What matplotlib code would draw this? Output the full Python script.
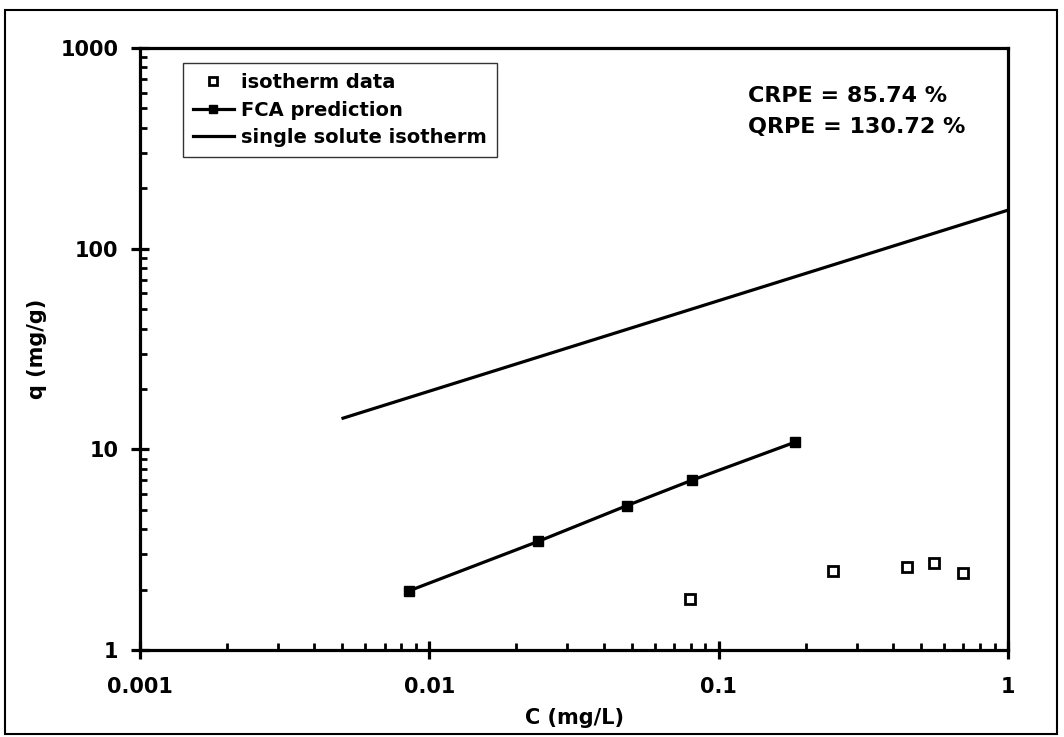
import matplotlib.pyplot as plt
from matplotlib.patches import Rectangle

# donnees
c_data = [0.0793, 0.249, 0.449, 0.556, 0.701]
q_data = [1.79, 2.48, 2.60, 2.72, 2.41]

c_fca = [0.00853, 0.0238, 0.0481, 0.0811, 0.183]
q_fca = [1.975, 3.48, 5.24, 7.03, 10.84]

c_single = [0.00503, 1.0]
q_single = [14.3, 155.6]

x_ticks = [0.001, 0.01, 0.1, 1]
x_labels = ['0.001', '0.01', '0.1', '1']
y_ticks = [1, 10, 100, 1000]
y_labels = ['1', '10', '100', '1000']

plt.rcParams['font.family'] = ['DejaVu Sans']
plt.rcParams['font.weight'] = 'bold'

fig = plt.figure(figsize=(10.64, 7.37), dpi=100)
ax = fig.add_axes([0.1316, 0.118, 0.8158, 0.8169])

ax.plot(c_data, q_data, 's', color='black', markerfacecolor='white',
        markeredgewidth=2, markersize=7, label='isotherm data')
ax.plot(c_fca, q_fca, 's-', color='black', linewidth=2.3, markersize=7,
        label='FCA prediction')
ax.plot(c_single, q_single, '-', color='black', linewidth=2.3,
        label='single solute isotherm')

ax.set_xscale('log')
ax.set_yscale('log')
ax.set_xlim(0.001, 1)
ax.set_ylim(1, 1000)
ax.set_xticks(x_ticks)
ax.set_xticklabels(x_labels)
ax.set_yticks(y_ticks)
ax.set_yticklabels(y_labels)

for s in ax.spines.values():
    s.set_linewidth(2.3)
ax.tick_params(which='major', direction='inout', length=13, width=2.3,
               labelsize=15, pad=9)
ax.tick_params(which='minor', direction='in', length=5, width=2)
ax.tick_params(axis='x', which='major', pad=13)

ax.set_xlabel('C (mg/L)', fontsize=15, fontweight='bold', labelpad=8)
ax.set_ylabel('q (mg/g)', fontsize=15, fontweight='bold', labelpad=10)

leg = ax.legend(loc='upper left', bbox_to_anchor=(0.0495, 0.975), fontsize=14,
                frameon=True, fancybox=False, edgecolor='black',
                handlelength=2.1, handletextpad=0.4, borderpad=0.5,
                labelspacing=0.45, borderaxespad=0, markerscale=0.8)
leg.get_frame().set_linewidth(1.0)
for t in leg.get_texts():
    t.set_fontweight('bold')

ax.text(0.7005, 0.920, 'CRPE = 85.74 %', transform=ax.transAxes,
        fontsize=16, fontweight='bold', va='center')
ax.text(0.7005, 0.869, 'QRPE = 130.72 %', transform=ax.transAxes,
        fontsize=16, fontweight='bold', va='center')

# cadre exterieur
fig.patches.append(Rectangle((0.005, 0.004), 0.988, 0.983, transform=fig.transFigure,
                             fill=False, edgecolor='black', linewidth=1.5))

fig.savefig('out.png', dpi=100)
